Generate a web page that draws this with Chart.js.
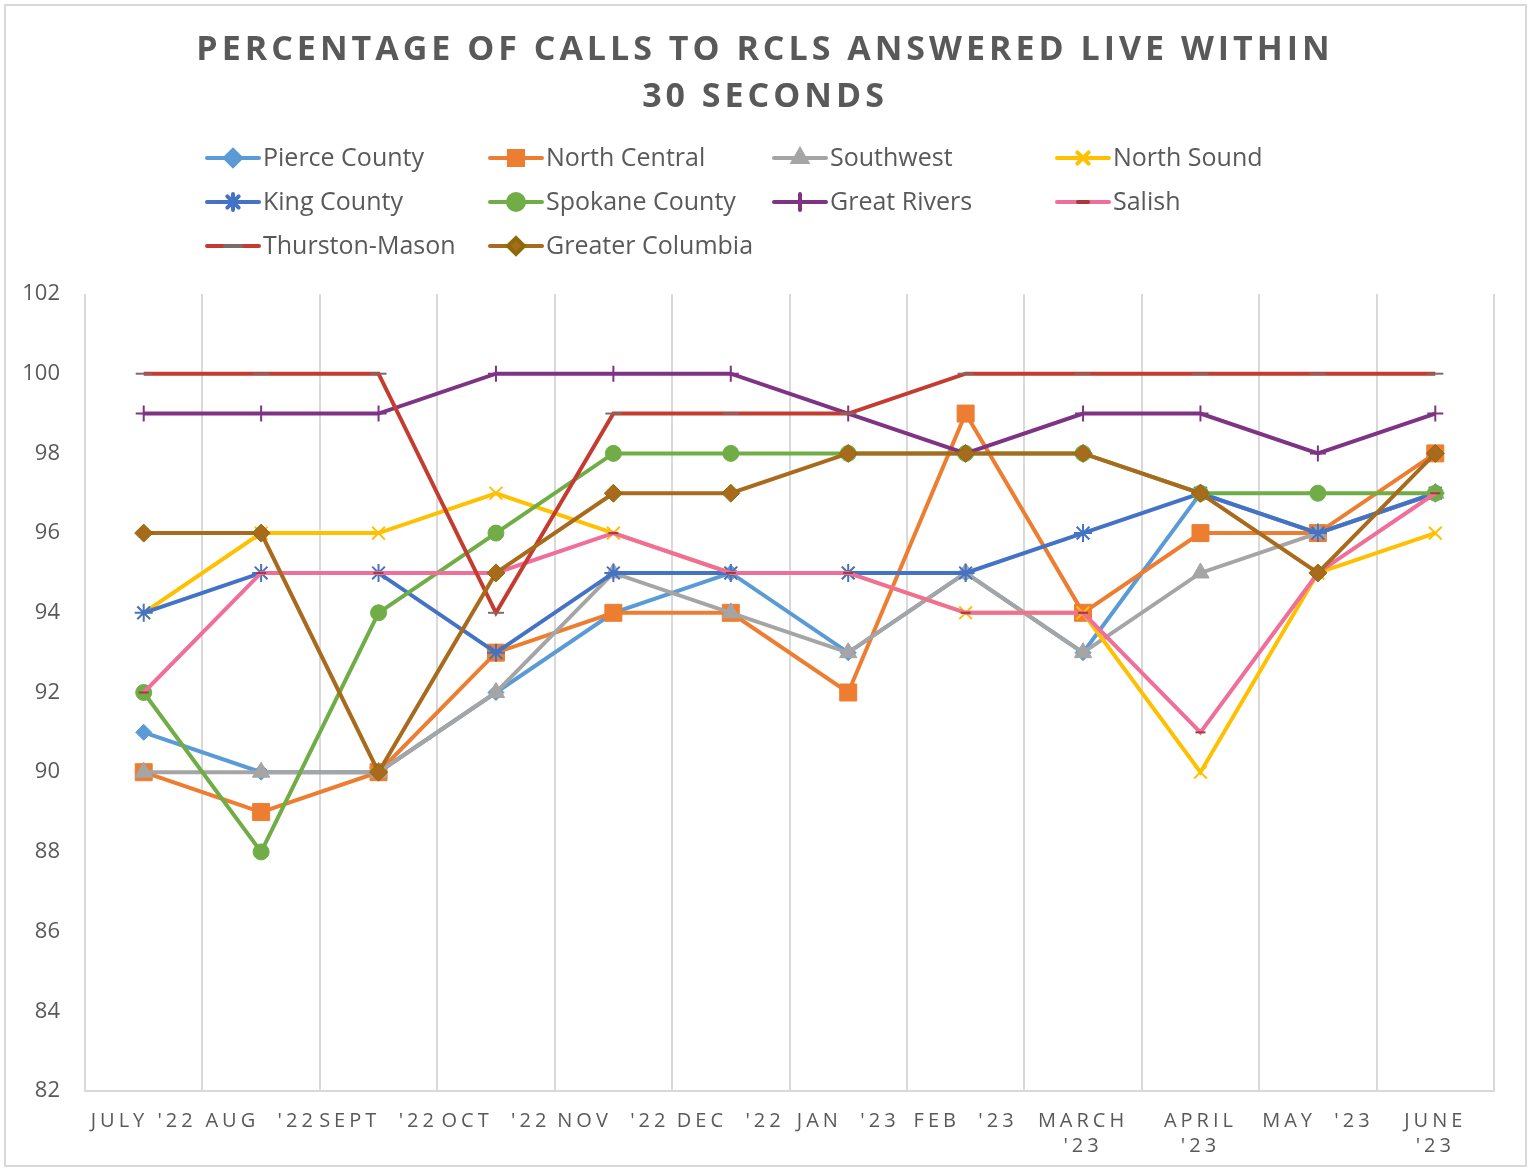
<!DOCTYPE html>
<html>
<head>
<meta charset="utf-8">
<title>Percentage of calls to RCLs answered live within 30 seconds</title>
<script src="https://cdn.jsdelivr.net/npm/chart.js@4.4.1/dist/chart.umd.min.js"></script>
<style>
  html, body { margin: 0; padding: 0; background: #fff; }
  #wrap { position: relative; width: 1532px; height: 1171px; }
</style>
</head>
<body>
<div id="wrap"><canvas id="calls-canvas" width="1532" height="1171"></canvas></div>
<script>
// months on the x axis
const months = ["JULY '22", "AUG  '22", "SEPT  '22", "OCT  '22", "NOV  '22", "DEC  '22",
    "JAN  '23", "FEB  '23", ["MARCH", "'23"], ["APRIL", "'23"], "MAY  '23", ["JUNE", "'23"]];

const yTicks = [82, 84, 86, 88, 90, 92, 94, 96, 98, 100, 102];

const titleLines = ["PERCENTAGE OF CALLS TO RCLS ANSWERED LIVE WITHIN", "30 SECONDS"];

const seriesNames = ["Pierce County", "North Central", "Southwest", "North Sound", "King County",
    "Spokane County", "Great Rivers", "Salish", "Thurston-Mason", "Greater Columbia"];

const pierceCounty    = [91, 90, 90, 92, 94, 95, 93, 95, 93, 97, 96, 97];
const northCentral    = [90, 89, 90, 93, 94, 94, 92, 99, 94, 96, 96, 98];
const southwest       = [90, 90, 90, 92, 95, 94, 93, 95, 93, 95, 96, 97];
const northSound      = [94, 96, 96, 97, 96, 95, 95, 94, 94, 90, 95, 96];
const kingCounty      = [94, 95, 95, 93, 95, 95, 95, 95, 96, 97, 96, 97];
const spokaneCounty   = [92, 88, 94, 96, 98, 98, 98, 98, 98, 97, 97, 97];
const greatRivers     = [99, 99, 99, 100, 100, 100, 99, 98, 99, 99, 98, 99];
const salish          = [92, 95, 95, 95, 96, 95, 95, 94, 94, 91, 95, 97];
const thurstonMason   = [100, 100, 100, 94, 99, 99, 99, 100, 100, 100, 100, 100];
const greaterColumbia = [96, 96, 90, 95, 97, 97, 98, 98, 98, 97, 95, 98];

const seriesValues = [pierceCounty, northCentral, southwest, northSound, kingCounty,
    spokaneCounty, greatRivers, salish, thurstonMason, greaterColumbia];

// line colour, marker style, marker radius, marker fill, marker edge
const seriesStyles = [
    {color: '#5B9BD5', style: 'rectRot', r: 8, fill: '#5B9BD5', edge: '#5B9BD5'},
    {color: '#ED7D31', style: 'rect', r: 12, fill: '#ED7D31', edge: '#ED7D31'},
    {color: '#A5A5A5', style: 'triangle', r: 10, fill: '#A5A5A5', edge: '#A5A5A5'},
    {color: '#FFC000', style: 'crossRot', r: 9, fill: '#FFC000', edge: '#FFC000'},
    {color: '#4472C4', style: 'star', r: 9, fill: '#4472C4', edge: '#4472C4'},
    {color: '#70AD47', style: 'circle', r: 8, fill: '#70AD47', edge: '#70AD47'},
    {color: '#7F3384', style: 'cross', r: 8, fill: '#7F3384', edge: '#7F3384'},
    {color: '#F06E9A', style: 'line', r: 5, fill: '#A63A3A', edge: '#A63A3A'},
    {color: '#C43C30', style: 'line', r: 8, fill: '#7F6A6A', edge: '#7F6A6A'},
    {color: '#A86A1C', style: 'rectRot', r: 9, fill: '#A86A1C', edge: '#8E6A06'},
];

const textGrey = '#595959';
const gridGrey = '#D9D9D9';
const baseFont = "'Open Sans', 'DejaVu Sans', sans-serif";

// legend grid: 4 columns, 3 rows
const legendCols = [205, 488, 772, 1055];
const legendRows = [158, 202, 246];

/**
 * @type {HTMLCanvasElement}
 */
const callsCanvas = document.querySelector("#calls-canvas");

function markerOptions(s) {
    const outlined = ['crossRot', 'star', 'cross', 'line'].includes(s.style);
    return {
        pointStyle: s.style,
        radius: s.r,
        rotation: 0,
        borderWidth: outlined ? 2 : 1,
    };
}

// frame, title + legend
const headerPlugin = {
    id: 'header',
    beforeDraw(chart) {
        const ctx = chart.ctx;
        ctx.save();
        ctx.strokeStyle = gridGrey;
        ctx.lineWidth = 2;
        ctx.strokeRect(5, 5, 1521, 1161);
        ctx.restore();
    },
    afterDatasetsDraw(chart) {
        // letter spaced x tick labels (drawn on layer z:1)
        chart.ctx.letterSpacing = '4px';
    },
    afterDraw(chart) {
        const ctx = chart.ctx;
        ctx.save();
        ctx.letterSpacing = '4px';
        ctx.fillStyle = textGrey;
        ctx.font = "bold 34px " + baseFont;
        ctx.textAlign = 'center';
        ctx.textBaseline = 'middle';
        ctx.fillText(titleLines[0], 765, 50);
        ctx.fillText(titleLines[1], 765, 97);

        ctx.letterSpacing = '0px';
        ctx.font = "25px " + baseFont;
        ctx.textAlign = 'left';
        seriesNames.forEach((name, i) => {
            const x = legendCols[i % 4];
            const y = legendRows[Math.floor(i / 4)];
            const s = seriesStyles[i];
            ctx.strokeStyle = s.color;
            ctx.lineWidth = 4;
            ctx.lineCap = 'round';
            ctx.beginPath();
            ctx.moveTo(x + 2, y);
            ctx.lineTo(x + 54, y);
            ctx.stroke();
            ctx.fillStyle = s.fill;
            ctx.strokeStyle = s.edge;
            const opts = markerOptions(s);
            opts.radius = s.style === 'rect' ? 10 : Math.min(s.r, 8);
            Chart.helpers.drawPoint(ctx, opts, x + 28, y);
            ctx.fillStyle = textGrey;
            ctx.fillText(name, x + 58, y + 1);
        });
        ctx.restore();
        ctx.letterSpacing = '0px';
    }
};

const datasets = seriesNames.map((name, i) => {
    const s = seriesStyles[i];
    const m = markerOptions(s);
    return {
        label: name,
        data: seriesValues[i],
        borderColor: s.color,
        backgroundColor: s.fill,
        borderWidth: 4,
        tension: 0,
        fill: false,
        pointStyle: m.pointStyle,
        pointRadius: m.radius,
        pointBackgroundColor: s.fill,
        pointBorderColor: s.edge,
        pointBorderWidth: m.borderWidth,
        // Excel draws later series on top
        order: seriesNames.length - i,
    };
});

const callsChart = new Chart(callsCanvas, {
    type: 'line',
    data: {
        labels: months,
        datasets: datasets,
    },
    options: {
        responsive: false,
        animation: false,
        layout: {
            padding: {top: 294, right: 38, bottom: 0, left: 0}
        },
        plugins: {
            legend: {display: false},
            title: {display: false},
            tooltip: {enabled: false},
        },
        scales: {
            x: {
                offset: true,
                afterFit(scale) {
                    scale.height = 80;
                },
                grid: {
                    offset: true,
                    color: gridGrey,
                    lineWidth: 2,
                    drawTicks: false,
                },
                border: {color: gridGrey, width: 2},
                ticks: {
                    z: 1,
                    autoSkip: false,
                    maxRotation: 0,
                    minRotation: 0,
                    padding: 18,
                    color: textGrey,
                    font: {family: baseFont, size: 20, lineHeight: 1.25},
                },
            },
            y: {
                min: yTicks[0],
                max: yTicks[yTicks.length - 1],
                afterFit(scale) {
                    scale.width = 85;
                },
                afterBuildTicks(scale) {
                    scale.ticks = yTicks.map(v => ({value: v}));
                },
                grid: {display: false},
                border: {display: false},
                ticks: {
                    padding: 17,
                    color: textGrey,
                    font: {family: baseFont, size: 22},
                },
            },
        },
    },
    plugins: [headerPlugin],
});
</script>
</body>
</html>
